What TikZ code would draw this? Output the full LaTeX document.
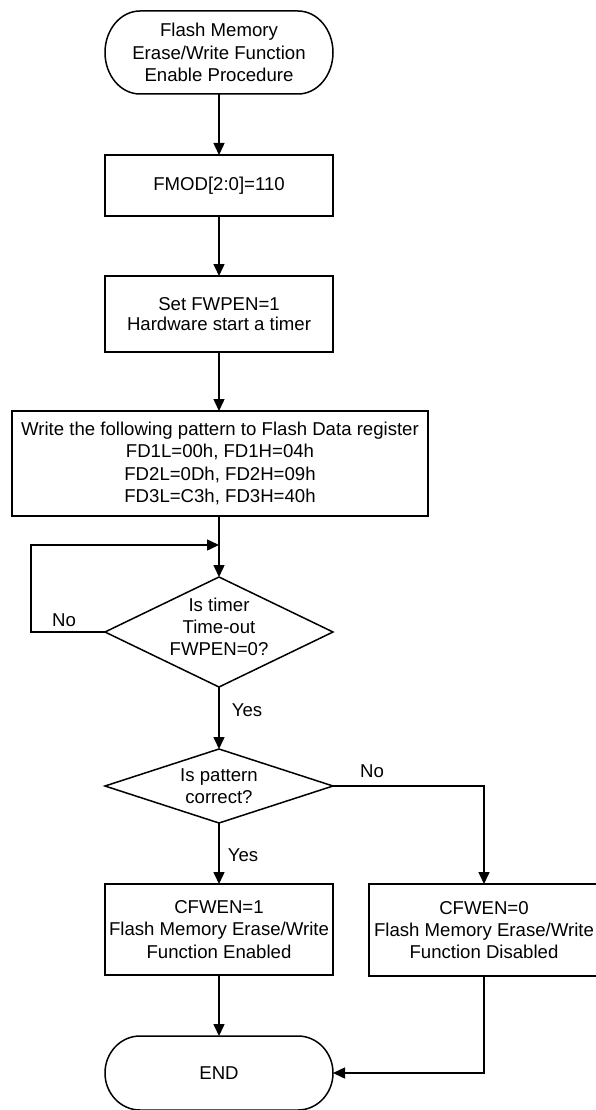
\documentclass[tikz,border=0pt]{standalone}
\usepackage{fontspec}
\setmainfont{Liberation Sans}
\usetikzlibrary{arrows.meta}
\newcommand\termshape[3]{\draw[outline] ([xshift=#2pt]#1.north west) -- ([xshift=-#2pt]#1.north east) arc[start angle=90,end angle=-90,x radius=#2pt,y radius=#3pt] -- ([xshift=#2pt]#1.south west) arc[start angle=270,end angle=90,x radius=#2pt,y radius=#3pt] -- cycle;}
\newcommand\diamshape[1]{\draw[outline] (#1.north) -- (#1.east) -- (#1.south) -- (#1.west) -- cycle;}
\begin{document}
\begin{tikzpicture}[x=1pt,y=-1pt,
  every node/.style={font=\fontsize{18.6}{22.3}\selectfont, align=center, inner sep=0pt, outer sep=0pt},
  outline/.style={line width=1.5pt, line join=miter},
  proc/.style={draw, line width=1.5pt, rectangle},
  shapeholder/.style={rectangle, draw=none},
  flow/.style={line width=1.5pt, -{Triangle[length=12pt,width=11pt]}},
  lbl/.style={font=\fontsize{18.6}{22.3}\selectfont}]
\useasboundingbox (0,0) rectangle (595,1110);

% start terminator
\node[shapeholder, minimum width=228pt, minimum height=83pt] (start) at (219,52.5) {Flash Memory\\Erase/Write Function\\Enable Procedure};
\termshape{start}{35}{41.5}

\node[proc, minimum width=228pt, minimum height=61pt] (fmod) at (219,185.5) {FMOD[2:0]=110};
\node[proc, minimum width=228pt, minimum height=76pt, font=\fontsize{18.6}{19.5}\selectfont] (setf) at (219,314) {Set FWPEN=1\\Hardware start a timer};
\node[proc, minimum width=416pt, minimum height=105pt] (wpat) at (220,463.5) {Write the following pattern to Flash Data register\\FD1L=00h, FD1H=04h\\FD2L=0Dh, FD2H=09h\\FD3L=C3h, FD3H=40h};

% decision 1
\node[shapeholder, minimum width=228pt, minimum height=110pt] (d1) at (219,632) {};
\diamshape{d1}
\node (d1t) at (219,627) {Is timer\\Time-out\\FWPEN=0?};

% decision 2
\node[shapeholder, minimum width=228pt, minimum height=74pt] (d2) at (219,786) {};
\diamshape{d2}
\node (d2t) at (219,786) {Is pattern\\correct?};

\node[proc, minimum width=228pt, minimum height=91pt] (cf1) at (219,929.5) {CFWEN=1\\Flash Memory Erase/Write\\Function Enabled};
\node[proc, minimum width=230pt, minimum height=92pt] (cf0) at (484,930) {CFWEN=0\\Flash Memory Erase/Write\\Function Disabled};

% end terminator
\node[shapeholder, minimum width=228pt, minimum height=74pt] (endt) at (219,1073) {END};
\termshape{endt}{35}{37}

% connectors
\draw[flow] (start.south) -- (fmod.north);
\draw[flow] (fmod.south) -- (setf.north);
\draw[flow] (setf.south) -- (wpat.north -| setf.south);
\draw[flow] (wpat.south -| d1.north) -- (d1.north);
\coordinate (loopL) at (31,545);
\coordinate (join) at (219,545);
\draw[flow] (d1.west) -| (loopL) -- (join);
\draw[flow] (d1.south) -- (d2.north);
\draw[flow] (d2.east) -| (cf0.north);
\draw[flow] (d2.south) -- (cf1.north);
\draw[flow] (cf1.south) -- (endt.north);
\draw[flow] (cf0.south) |- (endt.east);

% labels
\node[lbl] (no1) at (64,620) {No};
\node[lbl] (yes1) at (247,710) {Yes};
\node[lbl] (no2) at (372,771) {No};
\node[lbl] (yes2) at (243,855) {Yes};
\end{tikzpicture}
\end{document}
